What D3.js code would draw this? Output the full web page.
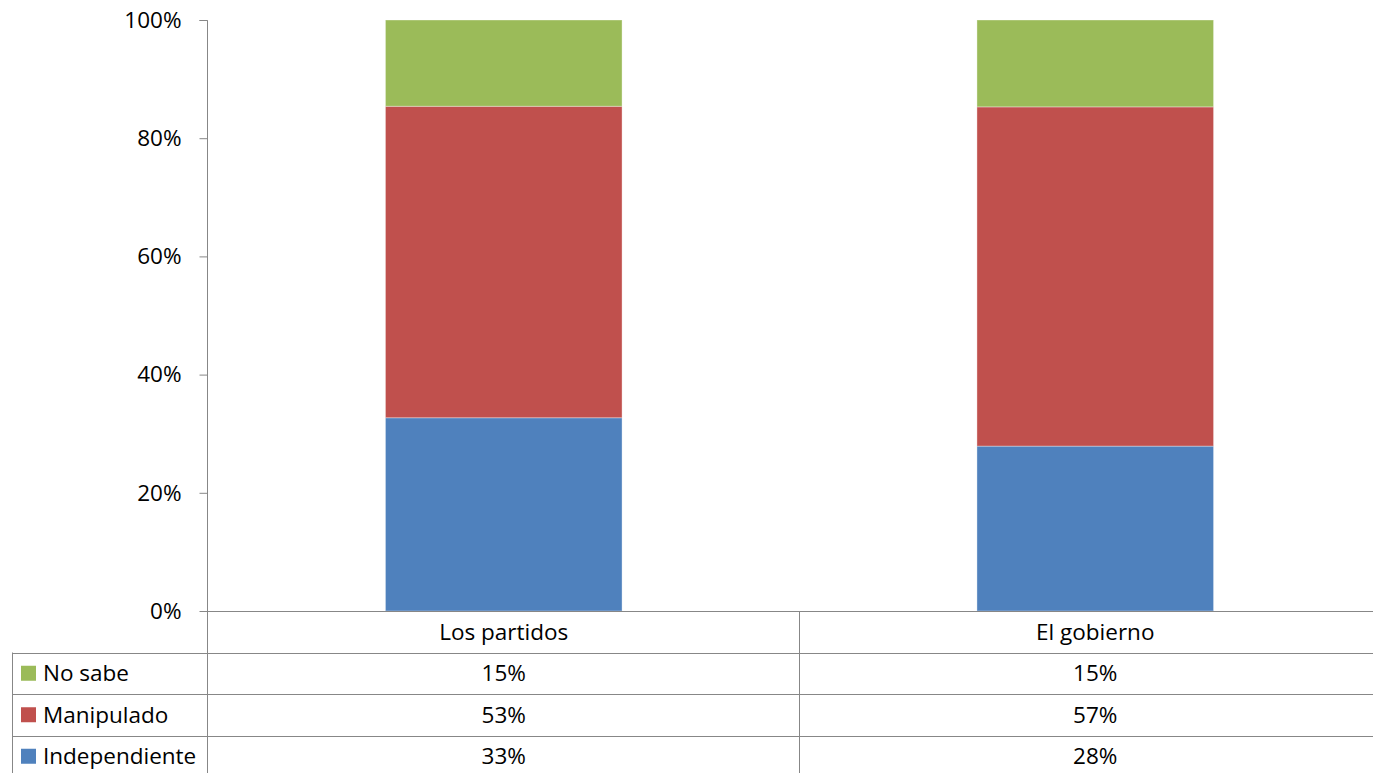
<!DOCTYPE html>
<html><head><meta charset="utf-8">
<script src="https://cdn.jsdelivr.net/npm/d3@7"></script>
<style>body{margin:0;background:#fff}svg{display:block}text{font-family:"Open Sans",sans-serif;fill:#000}</style>
</head><body><svg id="c" width="1373" height="773"></svg>
<script>
const categories = ["Los partidos", "El gobierno"];
const seriesNames = ["Independiente", "Manipulado", "No sabe"];
const independiente = [32.7, 27.9];
const manipulado = [52.7, 57.4];
const noSabe = [14.6, 14.7];
const tableLabels = {"No sabe": ["15%", "15%"], "Manipulado": ["53%", "57%"], "Independiente": ["33%", "28%"]};
const yTicks = [0, 20, 40, 60, 80, 100];
const colors = {"Independiente": "#4F81BD", "Manipulado": "#C0504D", "No sabe": "#9BBB59"};

const FS = "22.5px";
const svg = d3.select("#c");
const pLeft = 208, pRight = 1391, pTop = 20, pBottom = 611;
const x = d3.scaleBand().domain(categories).range([pLeft, pRight]).paddingInner(0.6).paddingOuter(0.3);
const xCat = d3.scaleBand().domain(categories).range([pLeft, pRight]);
const y = d3.scaleLinear().domain([0, 100]).range([pBottom, pTop]);

const data = categories.map((c, i) => ({cat: c, "Independiente": independiente[i], "Manipulado": manipulado[i], "No sabe": noSabe[i]}));
const stacked = d3.stack().keys(seriesNames)(data);

svg.append("g").selectAll("g").data(stacked).join("g")
  .attr("fill", d => colors[d.key])
  .selectAll("rect").data(d => d).join("rect")
  .attr("x", d => x(d.data.cat))
  .attr("width", x.bandwidth())
  .attr("y", d => y(d[1]))
  .attr("height", d => y(d[0]) - y(d[1]))
  .attr("stroke", "rgba(255,255,255,0.35)").attr("stroke-width", 1);

const gray = "#878787";
const ya = svg.append("g").attr("transform", `translate(${pLeft - 0.5},0)`)
  .call(d3.axisLeft(y).tickValues(yTicks).tickFormat(d => d + "%").tickSize(8).tickPadding(18));
ya.select(".domain").attr("stroke", gray).attr("d", `M-8,${pTop}.5H0V${pBottom}`);
ya.selectAll(".tick line").attr("stroke", gray);
ya.selectAll(".tick text").style("font-size", FS).style("font-family", "'Open Sans', sans-serif").attr("fill", "#000");

const rowH = 41.5;
const rows = ["No sabe", "Manipulado", "Independiente"];
const tLeft = 12;
const g = svg.append("g");
g.append("line").attr("x1", 200).attr("x2", 1373).attr("y1", pBottom + 0.5).attr("y2", pBottom + 0.5).attr("stroke", gray);
rows.forEach((r, i) => {
  const yy = Math.round(pBottom + rowH * (i + 1)) + 0.5;
  g.append("line").attr("x1", tLeft).attr("x2", 1373).attr("y1", yy).attr("y2", yy).attr("stroke", gray);
});
g.append("line").attr("x1", tLeft + 0.5).attr("x2", tLeft + 0.5).attr("y1", pBottom + rowH).attr("y2", 773).attr("stroke", gray);
[pLeft, xCat(categories[1])].forEach(xx => {
  g.append("line").attr("x1", Math.round(xx) - 0.5).attr("x2", Math.round(xx) - 0.5).attr("y1", pBottom).attr("y2", 773).attr("stroke", gray);
});
g.selectAll(".hdr").data(categories).join("text")
  .attr("x", d => xCat(d) + xCat.bandwidth() / 2).attr("y", pBottom + rowH / 2)
  .attr("dy", "0.35em").attr("text-anchor", "middle").style("font-size", FS).text(d => d);
rows.forEach((r, i) => {
  const cy = pBottom + rowH * (i + 1) + rowH / 2;
  g.append("rect").attr("x", 21).attr("y", cy - 7.5).attr("width", 15).attr("height", 15).attr("fill", colors[r]);
  g.append("text").attr("x", 43).attr("y", cy).attr("dy", "0.35em").style("font-size", FS).text(r);
  categories.forEach((c, j) => {
    g.append("text").attr("x", xCat(c) + xCat.bandwidth() / 2).attr("y", cy).attr("dy", "0.35em")
      .attr("text-anchor", "middle").style("font-size", FS).text(tableLabels[r][j]);
  });
});
</script></body></html>
